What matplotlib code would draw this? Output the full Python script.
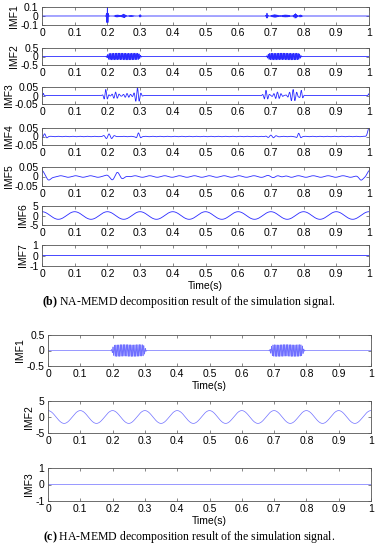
import numpy as np
import matplotlib.pyplot as plt

# sampling of the simulation signal
fs = 2000
t = np.arange(0, 1 + 1 / fs, 1 / fs)

# main components
sine_freq = 10          # Hz
sine_amp = 2.0
burst_freq = 220        # Hz
burst_amp = 0.19
burst_windows = [(0.20, 0.30), (0.69, 0.79)]

# wave packets seen in the NA-MEMD IMFs: centre, width, amplitude, frequency
imf1_packets = [(0.200, 0.002, 0.10, 300), (0.230, 0.006, 0.012, 300), (0.250, 0.005, 0.02, 300),
                (0.272, 0.008, 0.006, 300), (0.300, 0.002, 0.015, 300), (0.688, 0.002, 0.03, 300),
                (0.712, 0.008, 0.015, 300), (0.745, 0.010, 0.012, 300), (0.775, 0.004, 0.025, 300),
                (0.790, 0.004, 0.012, 300)]
imf3_packets = [(0.004, 0.003, 0.012, 90), (0.195, 0.005, 0.035, 90), (0.225, 0.008, 0.02, 90),
                (0.260, 0.010, 0.012, 90), (0.292, 0.007, 0.045, 90), (0.685, 0.006, 0.03, 90),
                (0.720, 0.010, 0.02, 90), (0.768, 0.010, 0.035, 90), (0.793, 0.004, 0.03, 90),
                (0.999, 0.002, 0.01, 90)]
imf4_packets = [(0.008, 0.006, 0.015, 60), (0.205, 0.012, 0.014, 60), (0.295, 0.005, 0.02, 60),
                (0.700, 0.012, 0.008, 60), (0.785, 0.005, 0.018, 60), (1.000, 0.004, 0.05, 0)]
imf5_packets = [(0.000, 0.006, 0.03, 0), (0.020, 0.006, -0.02, 0), (0.230, 0.018, 0.02, 30),
                (0.720, 0.020, 0.007, 30), (0.975, 0.006, -0.02, 0), (1.000, 0.006, 0.03, 0)]
imf4_background = (0.0012, 45)
imf5_background = (0.004, 22)

top_labels = ['IMF1', 'IMF2', 'IMF3', 'IMF4', 'IMF5', 'IMF6', 'IMF7']
top_lims = [0.1, 0.5, 0.05, 0.05, 0.05, 5, 1]
top_ticks = [['-0.1', '0', '0.1'], ['-0.5', '0', '0.5'], ['-0.05', '0', '0.05'],
             ['-0.05', '0', '0.05'], ['-0.05', '0', '0.05'], ['-5', '0', '5'], ['-1', '0', '1']]
bot_labels = ['IMF1', 'IMF2', 'IMF3']
bot_lims = [0.5, 5, 1]
bot_ticks = [['-0.5', '0', '0.5'], ['-5', '0', '5'], ['-1', '0', '1']]
xticks = [0, 0.1, 0.2, 0.3, 0.4, 0.5, 0.6, 0.7, 0.8, 0.9, 1]
xtick_labels = ['0', '0.1', '0.2', '0.3', '0.4', '0.5', '0.6', '0.7', '0.8', '0.9', '1']


def packets(plist):
    y = np.zeros_like(t)
    for c, w, a, f in plist:
        y += a * np.exp(-0.5 * ((t - c) / w) ** 2) * np.cos(2 * np.pi * f * (t - c))
    return y


def bursts(amp, freq):
    env = np.zeros_like(t)
    for a, b in burst_windows:
        env += 1 / (1 + np.exp(-(t - a) / 0.002)) - 1 / (1 + np.exp(-(t - b) / 0.002))
    return amp * env * np.sin(2 * np.pi * freq * t)


sine = sine_amp * np.cos(2 * np.pi * sine_freq * t)
top_imfs = [
    packets(imf1_packets),
    bursts(burst_amp, burst_freq),
    packets(imf3_packets),
    packets(imf4_packets) + imf4_background[0] * np.sin(2 * np.pi * imf4_background[1] * t),
    packets(imf5_packets) + imf5_background[0] * np.sin(2 * np.pi * imf5_background[1] * t),
    sine,
    np.zeros_like(t),
]
bot_imfs = [bursts(burst_amp, burst_freq), sine, np.zeros_like(t)]

plt.rcParams['font.family'] = 'Liberation Sans'
plt.rcParams['mathtext.fontset'] = 'custom'
plt.rcParams['mathtext.bf'] = 'Liberation Serif:bold'
plt.rcParams['mathtext.rm'] = 'Liberation Serif'
fs_tick = 7.5
W, H = 378, 550
fig = plt.figure(figsize=(W / 100, H / 100), dpi=100)


def make_ax(left, right, top, bottom):
    ax = fig.add_axes([left / W, 1 - bottom / H, (right - left) / W, (bottom - top) / H])
    for s in ax.spines.values():
        s.set_color('#555555')
        s.set_linewidth(0.6)
    ax.tick_params(direction='in', length=2, width=0.5, color='#555555',
                   labelsize=fs_tick, top=True, right=True, pad=2.5)
    ax.set_xlim(0, 1)
    ax.set_xticks(xticks)
    ax.set_xticklabels(xtick_labels)
    return ax


top_boxes = [(7, 25), (48, 65), (87, 104), (128, 145), (167, 186), (206, 225), (245, 266)]
for i, (tp, bt) in enumerate(top_boxes):
    ax = make_ax(42, 369, tp, bt)
    ax.plot(t, top_imfs[i], color='#2a2aff', lw=0.6)
    lim = top_lims[i]
    ax.set_ylim(-lim, lim)
    ax.set_yticks([-lim, 0, lim])
    ax.set_yticklabels(top_ticks[i])
    ax.set_ylabel(top_labels[i], fontsize=fs_tick, labelpad=1)
    if i == len(top_boxes) - 1:
        ax.set_xlabel('Time(s)', fontsize=fs_tick, labelpad=1)

bot_boxes = [(335, 366), (401, 433), (468, 501)]
for i, (tp, bt) in enumerate(bot_boxes):
    ax = make_ax(48, 371, tp, bt)
    ax.plot(t, bot_imfs[i], color='#6f6fff', lw=0.5)
    lim = bot_lims[i]
    ax.set_ylim(-lim, lim)
    ax.set_yticks([-lim, 0, lim])
    ax.set_yticklabels(bot_ticks[i])
    ax.set_ylabel(bot_labels[i], fontsize=fs_tick, labelpad=1)
    if i != 1:
        ax.set_xlabel('Time(s)', fontsize=fs_tick, labelpad=1)

fig.text(0.5, 1 - 302 / H, r'$\mathbf{(b)}$ NA-MEMD decomposition result of the simulation signal.',
         ha='center', va='center', fontsize=8.5, family='Liberation Serif')
fig.text(0.5, 1 - 537 / H, r'$\mathbf{(c)}$ HA-MEMD decomposition result of the simulation signal.',
         ha='center', va='center', fontsize=8.5, family='Liberation Serif')

fig.savefig('out.png', dpi=100)
